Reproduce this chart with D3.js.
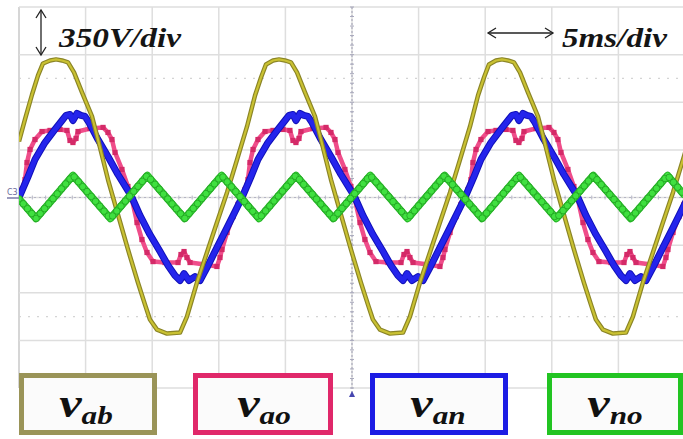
<!DOCTYPE html>
<html><head><meta charset="utf-8">
<script src="https://cdn.jsdelivr.net/npm/d3@7"></script>
<style>body{margin:0;background:#fff}svg{display:block}</style>
</head><body>
<script>
// time in ms, voltage in V (350 V/div, 5 ms/div)
const vab = [[0,412],[0.45,574],[0.98,757],[1.43,897],[1.80,985],[2.33,1007],[2.78,1015],[3.23,1007],[3.68,993],[4.13,919],[4.73,772],[5.48,596],[5.93,426],[6.68,132],[7.43,-125],[8.18,-382],[8.93,-625],[9.46,-787],[9.83,-897],[10.36,-971],[11.11,-1000],[12.09,-993],[12.61,-875],[13.36,-625],[14.11,-404],[14.86,-184],[15.62,37],[16.37,279],[17.12,522],[17.72,750],[18.17,882],[18.54,978],
[19.07,1007],[19.52,1015],[19.97,1007],[20.42,993],[20.87,919],[21.47,772],[22.22,596],[22.67,426],[23.42,132],[24.17,-125],[24.92,-382],[25.67,-625],[26.20,-787],[26.57,-897],[27.10,-971],[27.85,-1000],[28.83,-993],[29.35,-875],[30.10,-625],[30.85,-404],[31.60,-184],[32.36,37],[33.11,279],[33.86,522],[34.46,750],[34.91,882],[35.28,978],
[35.81,1007],[36.26,1015],[36.71,1007],[37.16,993],[37.61,919],[38.21,772],[38.96,596],[39.41,426],[40.16,132],[40.91,-125],[41.66,-382],[42.41,-625],[42.94,-787],[43.31,-897],[43.84,-971],[44.59,-1000],[45.57,-993],[46.09,-875],[46.84,-625],[47.59,-404],[48.34,-184],[49.10,37],[49.85,279],[50.60,522]];

const vao = [[0,0],[0.23,59],[0.45,132],[0.60,257],[0.83,353],[1.20,426],[1.73,485],[2.33,493],[3.08,500],[3.60,493],[3.83,419],[4.05,404],[4.28,434],[4.43,485],[5.33,507],[6.31,515],[6.68,478],[6.98,426],[7.21,331],[7.73,206],[8.18,81],[8.48,-15],[8.86,-184],[9.23,-309],[9.61,-404],[10.06,-471],[10.96,-478],[11.94,-478],[12.16,-419],[12.39,-397],[12.61,-441],[12.84,-478],[13.96,-493],[14.86,-507],[15.09,-441],[15.24,-382],[15.62,-257],[16.07,-140],[16.44,-51],
[16.74,0],[16.97,59],[17.19,132],[17.34,257],[17.57,353],[17.94,426],[18.47,485],[19.07,493],[19.82,500],[20.34,493],[20.57,419],[20.79,404],[21.02,434],[21.17,485],[22.07,507],[23.05,515],[23.42,478],[23.72,426],[23.95,331],[24.47,206],[24.92,81],[25.22,-15],[25.60,-184],[25.97,-309],[26.35,-404],[26.80,-471],[27.70,-478],[28.68,-478],[28.90,-419],[29.13,-397],[29.35,-441],[29.58,-478],[30.70,-493],[31.60,-507],[31.83,-441],[31.98,-382],[32.36,-257],[32.81,-140],[33.18,-51],
[33.48,0],[33.71,59],[33.93,132],[34.08,257],[34.31,353],[34.68,426],[35.21,485],[35.81,493],[36.56,500],[37.08,493],[37.31,419],[37.53,404],[37.76,434],[37.91,485],[38.81,507],[39.79,515],[40.16,478],[40.46,426],[40.69,331],[41.21,206],[41.66,81],[41.96,-15],[42.34,-184],[42.71,-309],[43.09,-404],[43.54,-471],[44.44,-478],[45.42,-478],[45.64,-419],[45.87,-397],[46.09,-441],[46.32,-478],[47.44,-493],[48.34,-507],[48.57,-441],[48.72,-382],[49.10,-257],[49.55,-140],[49.92,-51],[50.22,0]];

const van = [[0,0],[0.68,154],[1.20,279],[1.95,404],[2.70,500],[3.23,566],[3.53,603],[3.83,610],[4.05,566],[4.35,618],[4.65,603],[4.95,596],[5.26,551],[5.93,426],[6.68,301],[7.43,169],[8.18,51],[8.48,0],[9.08,-132],[9.83,-272],[10.59,-397],[11.19,-500],[11.71,-574],[12.09,-610],[12.39,-559],[12.76,-610],[13.21,-581],[13.59,-610],[14.11,-515],[14.86,-368],[15.62,-221],[16.22,-103],
[16.74,0],[17.42,154],[17.94,279],[18.69,404],[19.44,500],[19.97,566],[20.27,603],[20.57,610],[20.79,566],[21.09,618],[21.39,603],[21.69,596],[22.00,551],[22.67,426],[23.42,301],[24.17,169],[24.92,51],[25.22,0],[25.82,-132],[26.57,-272],[27.33,-397],[27.93,-500],[28.45,-574],[28.83,-610],[29.13,-559],[29.50,-610],[29.95,-581],[30.33,-610],[30.85,-515],[31.60,-368],[32.36,-221],[32.96,-103],
[33.48,0],[34.16,154],[34.68,279],[35.43,404],[36.18,500],[36.71,566],[37.01,603],[37.31,610],[37.53,566],[37.83,618],[38.13,603],[38.43,596],[38.74,551],[39.41,426],[40.16,301],[40.91,169],[41.66,51],[41.96,0],[42.56,-132],[43.31,-272],[44.07,-397],[44.67,-500],[45.19,-574],[45.57,-610],[45.87,-559],[46.24,-610],[46.69,-581],[47.07,-610],[47.59,-515],[48.34,-368],[49.10,-221],[49.70,-103],[50.22,0]];

const vno = [[0,-10],[1.28,-154],[4.05,162],[6.86,-154],[9.63,162],[12.44,-154],[15.21,162],[18.02,-154],[20.79,162],[23.60,-154],[26.37,162],[29.18,-154],[31.95,162],[34.76,-154],[37.53,162],[40.34,-154],[43.11,162],[45.92,-154],[48.69,162],[50,13]];

const timeTicks = [0,5,10,15,20,25,30,35,40,45,50];
const voltTicks = [-1400,-1050,-700,-350,0,350,700,1050,1400];
const legendMain = ["v","v","v","v"];
const legendSubs = ["ab","ao","an","no"];
const voltLabel = "350V/div";
const timeLabel = "5ms/div";

const W=683,H=439;
const svg = d3.select("body").append("svg").attr("width",W).attr("height",H);
const x = d3.scaleLinear().domain([0,50]).range([19,685]);
const y = d3.scaleLinear().domain([-1400,1400]).range([388,7]);

// grid
const grid = svg.append("g");
grid.selectAll("line.v").data(timeTicks).join("line")
  .attr("x1",d=>x(d)).attr("x2",d=>x(d)).attr("y1",y(1400)).attr("y2",y(-1400))
  .attr("stroke",d=>d===0?"#c8c8c8":"#dedede").attr("stroke-width",1.5);
grid.selectAll("line.h").data(voltTicks).join("line")
  .attr("x1",x(0)).attr("x2",W).attr("y1",d=>y(d)).attr("y2",d=>y(d))
  .attr("stroke","#dedede").attr("stroke-width",1.5);
// faint dotted cursor lines
[875,-875].forEach(v=>{
  grid.append("line").attr("x1",x(0)).attr("x2",W).attr("y1",y(v)).attr("y2",y(v))
   .attr("stroke","#d4d4d4").attr("stroke-width",1.2).attr("stroke-dasharray","2,7");
});
// center axes with minor ticks
grid.append("line").attr("x1",x(0)).attr("x2",W).attr("y1",y(0)).attr("y2",y(0))
  .attr("stroke","#b4b4c4").attr("stroke-width",1).attr("stroke-dasharray","2,3");
grid.append("line").attr("x1",x(25)).attr("x2",x(25)).attr("y1",y(1400)).attr("y2",y(-1400)+6)
  .attr("stroke","#a0a0b4").attr("stroke-width",1).attr("stroke-dasharray","2,2");
grid.selectAll("line.mt").data(d3.range(0,51,1)).join("line")
  .attr("x1",d=>x(d)).attr("x2",d=>x(d)).attr("y1",y(0)-2).attr("y2",y(0)+2)
  .attr("stroke","#b8b8c8").attr("stroke-width",1);
grid.selectAll("line.mv").data(d3.range(-1400,1401,70)).join("line")
  .attr("x1",x(25)-2).attr("x2",x(25)+2).attr("y1",d=>y(d)).attr("y2",d=>y(d))
  .attr("stroke","#a8a8bc").attr("stroke-width",1);

// clip
svg.append("clipPath").attr("id","clip").append("rect")
  .attr("x",x(0)).attr("y",0).attr("width",W-x(0)).attr("height",392);
const traces = svg.append("g").attr("clip-path","url(#clip)");
const line = d3.line().x(d=>x(d[0])).y(d=>y(d[1]));

// pink vao
traces.append("path").datum(vao).attr("d",line).attr("fill","none")
  .attr("stroke","#ef4d8a").attr("stroke-width",4.5).attr("stroke-linejoin","round");
traces.selectAll("rect.sq").data(vao).join("rect")
  .attr("x",d=>x(d[0])-2.6).attr("y",d=>y(d[1])-2.6).attr("width",5.2).attr("height",5.2)
  .attr("fill","#d42a68");

// blue van
traces.append("path").datum(van).attr("d",line).attr("fill","none")
  .attr("stroke","#1010b8").attr("stroke-width",7).attr("stroke-linejoin","round");
traces.append("path").datum(van).attr("d",line).attr("fill","none")
  .attr("stroke","#2424ec").attr("stroke-width",5).attr("stroke-linejoin","round");

// olive vab
traces.append("path").datum(vab).attr("d",line).attr("fill","none")
  .attr("stroke","#8a8426").attr("stroke-width",4.5).attr("stroke-linejoin","round");
traces.append("path").datum(vab).attr("d",line).attr("fill","none")
  .attr("stroke","#c9c132").attr("stroke-width",2.2).attr("stroke-linejoin","round");

// green vno
const gp = traces.append("path").datum(vno).attr("d",line).attr("fill","none")
  .attr("stroke","#24b424").attr("stroke-width",7.5).attr("stroke-linejoin","round");
traces.append("path").datum(vno).attr("d",line).attr("fill","none")
  .attr("stroke","#44e444").attr("stroke-width",5.5).attr("stroke-linejoin","round");
const L = gp.node().getTotalLength();
const knobs = d3.range(0,L,6.5).map(s=>gp.node().getPointAtLength(s));
traces.selectAll("circle.k").data(knobs).join("circle")
  .attr("cx",p=>p.x).attr("cy",p=>p.y).attr("r",3.3)
  .attr("fill","#40e040").attr("stroke","#1fa01f").attr("stroke-width",0.8);

// channel marker and trigger marker
svg.append("text").attr("x",7).attr("y",195).attr("font-family","DejaVu Sans")
  .attr("font-size",8).attr("fill","#6a6a9a").text("C3");
svg.append("line").attr("x1",7).attr("x2",19).attr("y1",198).attr("y2",198)
  .attr("stroke","#7a7aa8").attr("stroke-width",1.5);
svg.append("path").attr("d",`M${x(25)-3},397 L${x(25)+3},397 L${x(25)},391 Z`).attr("fill","#4646b0");

// scale labels with arrows
const lab = svg.append("g").attr("font-family","Liberation Serif").attr("font-weight","bold")
  .attr("font-style","italic").attr("font-size",27).attr("fill","#151515");
lab.append("text").attr("x",59).attr("y",46.5).attr("textLength",122)
  .attr("lengthAdjust","spacingAndGlyphs").text(voltLabel);
lab.append("text").attr("x",562).attr("y",47).attr("textLength",105)
  .attr("lengthAdjust","spacingAndGlyphs").text(timeLabel);
const ar = svg.append("g").attr("stroke","#222").attr("stroke-width",1.3).attr("fill","none");
ar.append("line").attr("x1",41).attr("x2",41).attr("y1",10).attr("y2",55);
ar.append("path").attr("d","M36,18 L41,10 L46,18 M36,47 L41,55 L46,47");
ar.append("line").attr("x1",488).attr("x2",553).attr("y1",33).attr("y2",33);
ar.append("path").attr("d","M496,28 L488,33 L496,38 M545,28 L553,33 L545,38");

// legend boxes
const boxes = [[19,157],[193,333],[370,508],[547,683]];
const boxColors = ["#9a9458","#e0286a","#1c1ce4","#22c422"];
const lg = svg.append("g");
lg.selectAll("rect").data(boxes).join("rect")
  .attr("x",d=>d[0]+2.5).attr("y",375.5).attr("width",d=>d[1]-d[0]-5).attr("height",57)
  .attr("fill","#fbfbfb").attr("stroke",(d,i)=>boxColors[i]).attr("stroke-width",5);
const centers = [86,264,438,615];
legendMain.forEach((m,i)=>{
  const g = lg.append("g").attr("transform",`translate(${centers[i]},417) scale(1.2,1)`);
  const t = g.append("text").attr("text-anchor","middle").attr("font-family","Liberation Serif")
    .attr("font-weight","bold").attr("font-style","italic").attr("fill","#111");
  t.append("tspan").attr("font-size",42).text(m);
  t.append("tspan").attr("font-size",26).attr("dy",7).text(legendSubs[i]);
});
</script>
</body></html>
